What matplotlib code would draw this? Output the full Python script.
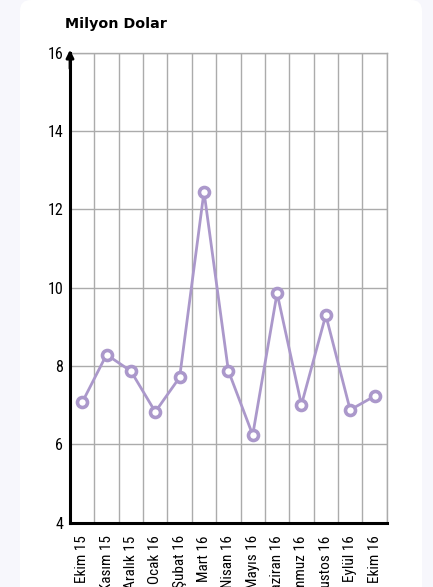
import matplotlib
matplotlib.use("Agg")
import matplotlib.pyplot as plt
from matplotlib import font_manager
from matplotlib.patches import FancyBboxPatch
import numpy as np

categories = ["Ekim 15", "Kasım 15", "Aralık 15", "Ocak 16", "Şubat 16", "Mart 16",
              "Nisan 16", "Mayıs 16", "Haziran 16", "Temmuz 16", "Ağustos 16", "Eylül 16", "Ekim 16"]
values = [7.07, 8.29, 7.87, 6.83, 7.71, 12.45, 7.88, 6.24, 9.86, 7.01, 9.30, 6.88, 7.23]
yticks = [4, 6, 8, 10, 12, 14, 16]
title = "Milyon Dolar"

def pick(names):
    for n in names:
        try:
            font_manager.findfont(font_manager.FontProperties(family=n), fallback_to_default=False)
            return n
        except Exception:
            continue
    return "DejaVu Sans"

narrow = pick(["Liberation Sans Narrow", "Roboto Condensed", "Open Sans Condensed", "Roboto"])
font = [narrow, "DejaVu Sans"]
line_color = "#ab98cb"
grid_color = "#ababab"

fig = plt.figure(figsize=(4.33, 5.87), dpi=100)
fig.patch.set_facecolor("#f7f7fc")
card = FancyBboxPatch((20/433, -0.05), (422-20)/433, 1.05, boxstyle="round,pad=0,rounding_size=0.025",
                      transform=fig.transFigure, facecolor="white", edgecolor="none", zorder=-10,
                      mutation_aspect=433/587)
fig.patches.append(card)

ax = fig.add_axes([70/433, 1-522.7/587, (386.7-70)/433, (522.7-52.6)/587])
ax.set_facecolor("white")
x = np.arange(len(categories))
ax.set_xlim(-0.5, len(categories)-0.5)
ax.set_ylim(4, 16)

for b in np.arange(-0.5, len(categories), 1.0)[1:]:
    ax.axvline(b, color=grid_color, lw=1.0, zorder=1)
for t in yticks[1:]:
    ax.axhline(t, color=grid_color, lw=1.0, zorder=1)

ax.plot(x, values, color=line_color, lw=2.0, zorder=3, clip_on=False)
ax.plot(x, values, linestyle="none", marker="o", markersize=7.2, markerfacecolor="white",
        markeredgecolor=line_color, markeredgewidth=2.6, zorder=4, clip_on=False)

for s in ["top", "right"]:
    ax.spines[s].set_color(grid_color)
    ax.spines[s].set_linewidth(1.0)
for s in ["left", "bottom"]:
    ax.spines[s].set_color("black")
    ax.spines[s].set_linewidth(2.2)
    ax.spines[s].set_zorder(5)

ax.annotate("", xy=(0, 1.012), xytext=(0, 0.96), xycoords="axes fraction",
            arrowprops=dict(arrowstyle="-|>,head_length=0.45,head_width=0.22", color="black", lw=2.0),
            annotation_clip=False)

ax.set_yticks(yticks)
ax.set_yticklabels([str(t) for t in yticks], fontfamily=font, fontsize=11.5)
ax.set_xticks(x)
ax.set_xticklabels(categories, rotation=90, fontfamily=font, fontsize=11, va="top")
ax.tick_params(axis="both", length=0, pad=5)
ax.tick_params(axis="x", pad=9)

fig.text(65/433, 1-24/587, title, fontfamily=["DejaVu Sans"], fontweight="bold",
         fontsize=10.3, va="center", ha="left")

fig.savefig("out.png", dpi=100, facecolor=fig.get_facecolor())
